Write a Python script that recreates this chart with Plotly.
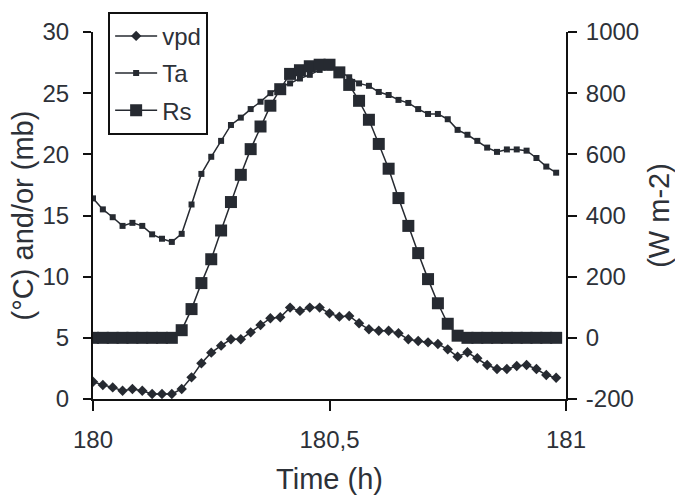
import numpy as np
import plotly.graph_objects as go

# time axis: half-hourly samples over day 180
time = [180 + i / 48 for i in range(48)]

vpd = [1.41, 1.14, 0.95, 0.68, 0.82, 0.68, 0.41, 0.41, 0.41, 0.82,
       1.77, 2.92, 3.79, 4.36, 4.88, 4.88, 5.45, 6.05, 6.6, 6.68,
       7.47, 7.2, 7.47, 7.47, 7.0, 6.73, 6.79, 6.19, 5.7, 5.58,
       5.58, 5.37, 4.88, 4.74, 4.63, 4.5, 4.06, 3.46, 3.82, 3.33,
       2.78, 2.45, 2.45, 2.7, 2.78, 2.45, 1.96, 1.74]

ta = [16.4, 15.5, 14.86, 14.15, 14.4, 14.15, 13.46, 13.1, 12.84, 13.5,
      15.9, 18.4, 19.8, 21.1, 22.4, 23.0, 23.7, 24.3, 25.0, 25.5,
      25.8, 26.2, 26.5, 26.9, 27.1, 26.8, 26.3, 25.8, 25.6, 25.1,
      24.85, 24.45, 24.2, 23.7, 23.3, 23.3, 22.87, 22.0, 21.6, 21.1,
      20.55, 20.2, 20.4, 20.4, 20.3, 19.7, 19.0, 18.5]

rs = [0, 0, 0, 0, 0, 0, 0, 0, 0, 25,
      94, 179, 257, 351, 444, 533, 617, 691, 759, 813,
      863, 875, 888, 893, 893, 868, 827, 775, 713, 634,
      553, 457, 366, 277, 192, 113, 46, 7, 0, 0,
      0, 0, 0, 0, 0, 0, 0, 0]

x_tickvals = [180, 180.5, 181]
x_ticktext = ["180", "180,5", "181"]
left_ticks = [0, 5, 10, 15, 20, 25, 30]
right_ticks = [-200, 0, 200, 400, 600, 800, 1000]
right_ticktext = ["-200", "0", "200", "400", "600", "800", "1000"]

INK = "#262a31"
TXT = "#2d3138"
FONT = "Liberation Sans, Arial, sans-serif"

fig = go.Figure()
fig.add_trace(go.Scatter(x=time, y=vpd, name="vpd", mode="lines+markers",
                         line=dict(color=INK, width=1.5),
                         marker=dict(symbol="diamond", size=8, color=INK),
                         legendgroup="a"))
fig.add_trace(go.Scatter(x=time, y=ta, name="Ta", mode="lines+markers",
                         line=dict(color=INK, width=1.5),
                         marker=dict(symbol="square", size=6, color=INK),
                         legendgroup="b"))
fig.add_trace(go.Scatter(x=time, y=rs, name="Rs", mode="lines+markers",
                         line=dict(color=INK, width=1.5),
                         marker=dict(symbol="square", size=12, color=INK),
                         yaxis="y2", legendgroup="c"))

fig.update_layout(
    width=675, height=496,
    margin=dict(l=93, r=109, t=32, b=97, autoexpand=False),
    paper_bgcolor="white", plot_bgcolor="white",
    font=dict(family=FONT, size=24, color=TXT),
    showlegend=True,
    legend=dict(x=0.032, y=1.055, xanchor="left", yanchor="top",
                bordercolor="#111111", borderwidth=2, bgcolor="white",
                font=dict(size=24, color=TXT), traceorder="grouped",
                tracegroupgap=3, itemwidth=42),
    xaxis=dict(range=[180, 181], tickvals=x_tickvals, ticktext=x_ticktext,
               showline=True, linecolor="#111111", linewidth=2,
               ticks="outside", ticklen=10, tickwidth=2, tickcolor="#111111",
               ticklabelstandoff=8, showgrid=False, zeroline=False,
               automargin=False,
               title=dict(text="Time (h)", standoff=17)),
    yaxis=dict(range=[0, 30], tickvals=left_ticks,
               showline=True, linecolor="#111111", linewidth=2,
               ticks="outside", ticklen=8, tickwidth=2, tickcolor="#111111",
               ticklabelstandoff=9, showgrid=False, zeroline=False,
               automargin=False,
               title=dict(text="(°C) and/or (mb)", standoff=0)),
    yaxis2=dict(range=[-200, 1000], tickvals=right_ticks,
                ticktext=right_ticktext, overlaying="y",
                side="right", showline=True, linecolor="#111111", linewidth=2,
                ticks="outside", ticklen=9, tickwidth=2, tickcolor="#111111",
                ticklabelstandoff=4, showgrid=False, zeroline=False,
                automargin=False,
                title=dict(text="(W m-2)", standoff=22)),
    yaxis3=dict(range=[-200, 1000], tickvals=right_ticks, overlaying="y",
                side="right", showline=False, ticks="inside", ticklen=9,
                tickwidth=2, tickcolor="#111111", showticklabels=False,
                showgrid=False, zeroline=False, automargin=False),
)

fig.write_html("out.html", config={"displayModeBar": False},
               post_script="document.body.style.margin='0';")
